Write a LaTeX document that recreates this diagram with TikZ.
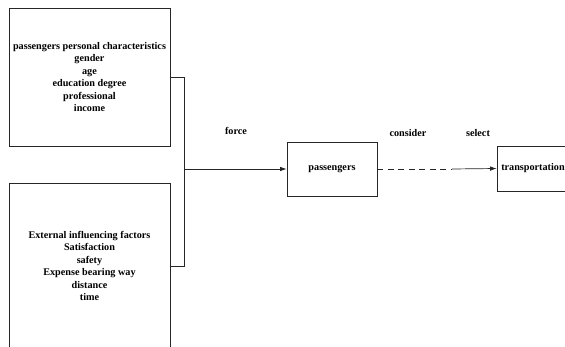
\documentclass[tikz,border=0pt]{standalone}
\usepackage{fontspec}
\setmainfont{Liberation Serif}
\usetikzlibrary{arrows.meta,positioning}

\begin{document}
\begin{tikzpicture}[x=1pt,y=-1pt,line width=0.7pt,
  font=\bfseries\fontsize{10.2}{12.4}\selectfont,
  factorbox/.style={draw=black!85,rectangle,align=center,inner sep=0pt,minimum width=161pt},
  mainbox/.style={draw=black!85,rectangle,inner sep=0pt,minimum height=#1},
  link/.style={draw=black!85},
  tip/.style={-{Latex[length=6.5pt,width=4.5pt]}}]
\useasboundingbox (0,0) rectangle (565,347);
\clip (0,0) rectangle (565,347);
\node[factorbox,minimum height=138pt] (personal) at (89.5,77) {passengers personal characteristics\\gender\\age\\education degree\\professional\\income};
\node[factorbox,minimum height=166pt] (external) at (89.5,266) {External influencing factors\\Satisfaction\\safety\\Expense bearing way\\distance\\time};
\coordinate (merge) at (184,169);
\node[mainbox=54pt,minimum width=90pt] (passengers) at (332,169) {passengers};
\node[mainbox=45pt,minimum width=72pt] (transport) at (533,168.5) {transportation};
\coordinate (dashend) at (452,169);
\node (force) at (236,131) {force};
\node (consider) at (408,133) {consider};
\node (select) at (478,133) {select};
\draw[link] (personal.east) -| (merge);
\draw[link] (external.east) -| (merge);
\draw[link,tip] (merge) -- (passengers.west);
\draw[link,dash pattern=on 6pt off 4.5pt] (passengers.east) -- (dashend);
\draw[link,tip] (dashend) -- (transport.west);
\end{tikzpicture}
\end{document}
